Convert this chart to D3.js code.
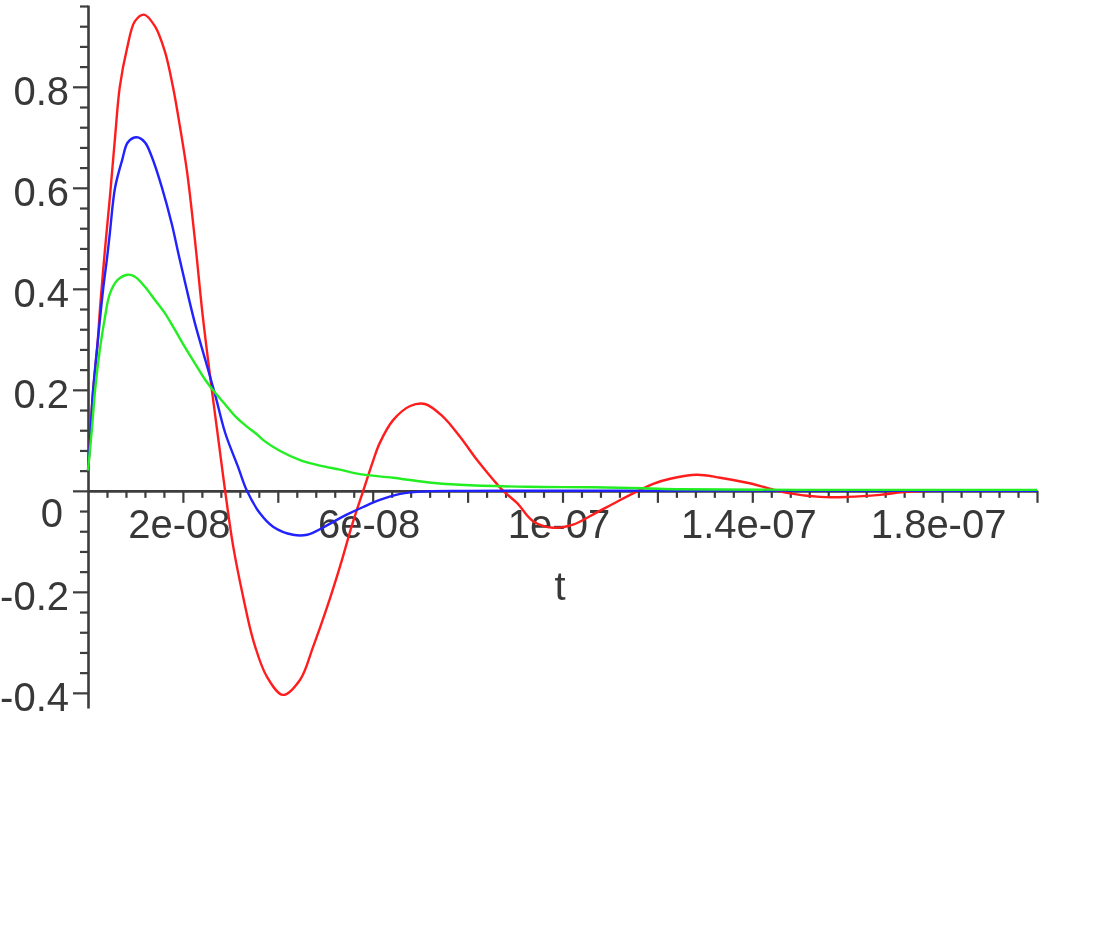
<!DOCTYPE html>
<html>
<head>
<meta charset="utf-8">
<script src="https://cdn.jsdelivr.net/npm/d3@7"></script>
<style>
  body { margin: 0; background: #fff; }
  text { font-family: "Liberation Sans", Arial, sans-serif; }
</style>
</head>
<body>
<div id="plot"></div>
<script>
// time in nanoseconds
const redTimes = [0, 0.5, 1.0, 2.0, 2.6, 3.6, 4.6, 5.7, 6.7, 8.2, 9.9, 11.8, 14.1, 16.2, 17.9, 19.4, 20.9, 22.5, 24.2, 26.1, 27.4, 28.9, 30.6, 32.7, 34.8, 37.7, 41.1, 44.7, 47.4, 50.4, 53.1, 55.8, 58.0, 60.1, 61.5, 64.3, 67.9, 71.0, 74.8, 78.4, 82.0, 85.4, 87.5, 90.4, 93.8, 98.0, 102.2, 106.4, 110.6, 115.9, 119.1, 122.7, 128.3, 133.2, 138.9, 143.1, 147.3, 154.3, 160.0, 166.9, 172.6, 185, 200];
const redValues = [0.04, 0.11, 0.19, 0.29, 0.37, 0.48, 0.58, 0.70, 0.80, 0.875, 0.93, 0.943, 0.92, 0.87, 0.80, 0.72, 0.63, 0.50, 0.345, 0.20, 0.107, 0.0, -0.11, -0.21, -0.295, -0.368, -0.404, -0.374, -0.31, -0.23, -0.15, -0.063, 0, 0.06, 0.095, 0.14, 0.168, 0.172, 0.147, 0.107, 0.061, 0.022, 0, -0.024, -0.060, -0.073, -0.067, -0.047, -0.026, 0, 0.014, 0.024, 0.032, 0.026, 0.016, 0.006, -0.004, -0.012, -0.012, -0.008, -0.002, 0.001, 0];

const blueTimes = [0, 0.5, 1.0, 2.1, 3.2, 4.0, 4.6, 5.7, 7.2, 8.4, 10.3, 12.0, 13.5, 15.6, 17.7, 19.0, 20.4, 22.5, 24.7, 26.8, 28.9, 31.6, 33.5, 36.2, 39.0, 43.2, 46.2, 49.5, 53.7, 58.0, 61.5, 65.8, 71.4, 80, 200];
const blueValues = [0.04, 0.11, 0.19, 0.30, 0.40, 0.46, 0.51, 0.60, 0.655, 0.69, 0.70, 0.69, 0.66, 0.60, 0.527, 0.472, 0.415, 0.333, 0.26, 0.19, 0.115, 0.048, 0.0, -0.044, -0.071, -0.087, -0.087, -0.073, -0.051, -0.032, -0.018, -0.006, -0.001, 0, 0];

const greenTimes = [0, 0.8, 1.5, 2.5, 3.6, 4.6, 6.3, 8.4, 9.9, 12.0, 14.1, 16.2, 18.3, 20.4, 22.5, 24.7, 26.8, 29.0, 31.0, 33.1, 35.2, 37.0, 40.5, 44.7, 48.9, 53.1, 57.3, 64.3, 71.4, 78.4, 92.5, 106.4, 117.0, 125, 150, 200];
const greenValues = [0.04, 0.12, 0.2, 0.28, 0.345, 0.39, 0.418, 0.428, 0.424, 0.404, 0.378, 0.352, 0.319, 0.285, 0.253, 0.22, 0.194, 0.170, 0.148, 0.130, 0.115, 0.100, 0.079, 0.061, 0.050, 0.042, 0.033, 0.026, 0.017, 0.012, 0.008, 0.007, 0.005, 0.003, 0.002, 0.002];

const xLabelValues = [20, 60, 100, 140, 180];
const xTickLabels = ["2e-08", "6e-08", "1e-07", "1.4e-07", "1.8e-07"];
const yLabelValues = [-0.4, -0.2, 0.2, 0.4, 0.6, 0.8];
const yTickLabels = ["-0.4", "-0.2", "0.2", "0.4", "0.6", "0.8"];

const width = 1120, height = 928;
const axisColor = "#3c3c3c";

const svg = d3.select("#plot").append("svg")
    .attr("width", width)
    .attr("height", height);

svg.append("defs").append("filter")
    .attr("id", "soft")
    .append("feGaussianBlur")
    .attr("stdDeviation", 0.6);

const x = d3.scaleLinear().domain([0, 200]).range([88, 1037]);
const y = d3.scaleLinear().domain([-0.43, 0.962]).range([708, 5]);

const xMajor = d3.range(20, 201, 20);
const xMinor = d3.range(4, 201, 4).filter(d => d % 20 !== 0);
const yMajor = [-0.4, -0.2, 0, 0.2, 0.4, 0.6, 0.8];
const yMinor = d3.range(-0.4, 0.97, 0.04).map(d => +d.toFixed(2))
    .filter(d => !yMajor.some(m => Math.abs(m - d) < 1e-6));

const g = svg.append("g").attr("filter", "url(#soft)");

// x axis
const xAxis = g.append("g").attr("transform", `translate(0,${y(0)})`);
xAxis.call(d3.axisBottom(x).tickValues(xMajor).tickSize(12).tickSizeOuter(0)
    .tickFormat(d => {
        const i = xLabelValues.indexOf(d);
        return i >= 0 ? xTickLabels[i] : "";
    }));
xAxis.append("g").call(d3.axisBottom(x).tickValues(xMinor).tickSize(7).tickFormat(""))
    .select(".domain").remove();

// y axis
const yAxis = g.append("g").attr("transform", `translate(${x(0)},0)`);
yAxis.call(d3.axisLeft(y).tickValues(yMajor).tickSize(15).tickPadding(4).tickSizeOuter(0)
    .tickFormat(d => {
        const i = yLabelValues.findIndex(v => Math.abs(v - d) < 1e-9);
        return i >= 0 ? yTickLabels[i] : "";
    }));
yAxis.append("g").call(d3.axisLeft(y).tickValues(yMinor).tickSize(8).tickFormat(""))
    .select(".domain").remove();

g.selectAll(".domain").attr("stroke", axisColor).attr("stroke-width", 2.6);
g.selectAll(".tick line").attr("stroke", axisColor).attr("stroke-width", 2.2);
g.selectAll(".tick text")
    .attr("fill", "#383838")
    .style("font-size", "40px")
    .style("font-family", "'Liberation Sans', Arial, sans-serif");
xAxis.selectAll(".tick text").attr("y", 19).attr("dx", -4);
yAxis.selectAll(".tick text").attr("dy", "0.45em");

g.append("text")
    .attr("x", 63).attr("y", 527)
    .attr("text-anchor", "end")
    .attr("fill", "#383838")
    .style("font-size", "40px")
    .text("0");

g.append("text")
    .attr("x", 560).attr("y", 600)
    .attr("text-anchor", "middle")
    .attr("fill", "#383838")
    .style("font-size", "40px")
    .text("t");

// curves
const line = d3.line()
    .x(d => x(d[0]))
    .y(d => y(d[1]))
    .curve(d3.curveCatmullRom.alpha(0.5));

const series = [
    { times: redTimes, values: redValues, color: "#ff1e1e" },
    { times: blueTimes, values: blueValues, color: "#2020ff" },
    { times: greenTimes, values: greenValues, color: "#22ee22" }
];

series.forEach(s => {
    g.append("path")
        .datum(s.times.map((t, i) => [t, s.values[i]]))
        .attr("fill", "none")
        .attr("stroke", s.color)
        .attr("stroke-width", 2.4)
        .attr("d", line);
});
</script>
</body>
</html>
